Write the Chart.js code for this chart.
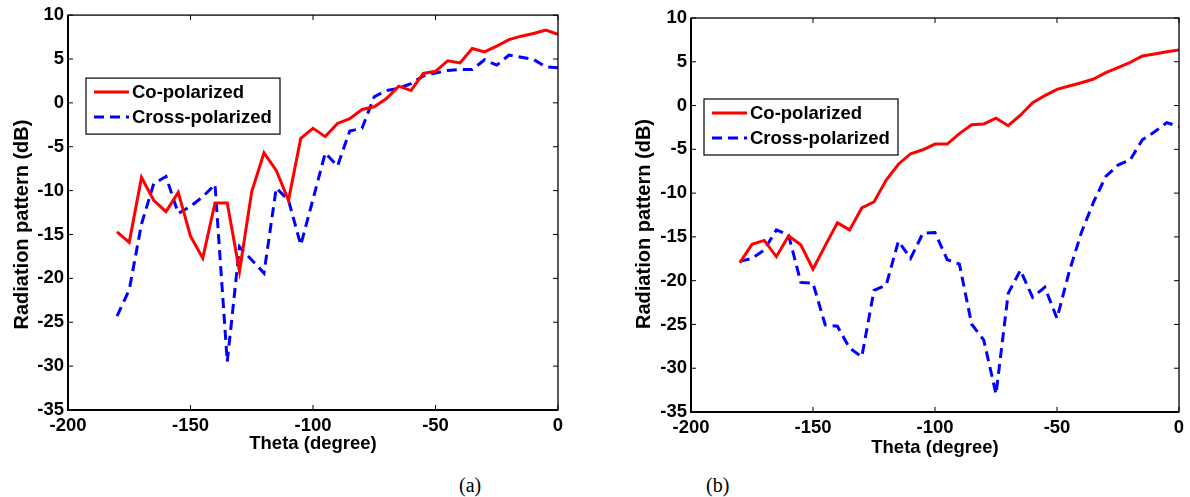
<!DOCTYPE html>
<html>
<head>
<meta charset="utf-8">
<script src="https://cdn.jsdelivr.net/npm/chart.js@4.4.1/dist/chart.umd.min.js"></script>
<style>
  body { margin: 0; background: #fff; width: 1190px; height: 497px; position: relative; overflow: hidden; }
  .box { position: absolute; top: 0; height: 470px; }
  .cap { position: absolute; font-family: "Liberation Serif", "Times New Roman", serif; font-size: 20px; color: #000; }
</style>
</head>
<body>
<div class="box" style="left:0;width:590px"><canvas id="chartA"></canvas></div>
<div class="box" style="left:595px;width:595px"><canvas id="chartB"></canvas></div>
<div class="cap" style="left:459px;top:474px">(a)</div>
<div class="cap" style="left:706px;top:474px">(b)</div>
<script>
// angle samples (degree)
const theta = [-180, -175, -170, -165, -160, -155, -150, -145, -140, -135, -130, -125, -120,
  -115, -110, -105, -100, -95, -90, -85, -80, -75, -70, -65, -60, -55, -50, -45, -40,
  -35, -30, -25, -20, -15, -10, -5, 0];

// (a) values in dB
const coA = [-14.7, -15.9, -8.5, -11.1, -12.4, -10.2, -15.2, -17.7, -11.4, -11.4, -19.2, -10.1, -5.7,
  -7.7, -11.1, -4.05, -2.9, -3.85, -2.35, -1.8, -0.75, -0.45, 0.5, 1.9, 1.4, 3.35, 3.6, 4.8, 4.55,
  6.2, 5.8, 6.47, 7.2, 7.6, 7.9, 8.3, 7.8];
const crossA = [-24.3, -21.3, -13.8, -9.2, -8.4, -12.6, -11.8, -10.7, -9.3, -29.5, -16.4, -17.9, -19.4,
  -9.7, -11.1, -16.2, -11.0, -5.7, -7.2, -3.2, -2.9, 0.7, 1.4, 1.65, 2.2, 3.05, 3.4, 3.7, 3.8,
  3.8, 4.9, 4.3, 5.45, 5.2, 4.95, 4.1, 4.0];

// (b) values in dB
const coB = [-17.95, -15.85, -15.4, -17.25, -14.9, -15.9, -18.7, -16.0, -13.4, -14.2, -11.7, -11.0, -8.5,
  -6.7, -5.5, -5.05, -4.4, -4.4, -3.2, -2.2, -2.1, -1.45, -2.3, -1.1, 0.33, 1.13, 1.85, 2.23, 2.6,
  3.03, 3.75, 4.33, 4.94, 5.66, 5.9, 6.15, 6.35];
const crossB = [-17.8, -17.45, -16.5, -14.2, -14.8, -20.2, -20.3, -25.05, -25.2, -27.7, -28.7, -21.1, -20.5,
  -15.5, -17.45, -14.6, -14.5, -17.6, -18.1, -24.95, -26.8, -32.95, -21.45, -18.8, -21.9, -20.75, -24.3, -18.97, -14.5,
  -11.0, -8.1, -6.8, -6.2, -3.9, -3.0, -1.95, -2.4];

const seriesNames = ["Co-polarized", "Cross-polarized"];
const xTicks = [-200, -150, -100, -50, 0];
const yTicks = [-35, -30, -25, -20, -15, -10, -5, 0, 5, 10];
const yTitle = "Radiation pattern (dB)";

Chart.defaults.font.family = "'Liberation Sans', Arial, sans-serif";
Chart.defaults.color = "#000";

// MATLAB style box with inward ticks, legend and y title
const framePlugin = {
  id: "frame",
  afterDatasetsDraw(chart) {
    const { ctx, chartArea: a, scales } = chart;
    const opt = chart.options.plugins.frame;
    ctx.save();
    ctx.strokeStyle = "#000";
    ctx.lineWidth = 1.3;
    ctx.strokeRect(a.left, a.top, a.right - a.left, a.bottom - a.top);
    ctx.lineWidth = 2;
    ctx.beginPath();
    ctx.moveTo(a.left, a.top);
    ctx.lineTo(a.left, a.bottom);
    ctx.lineTo(a.right, a.bottom);
    ctx.stroke();
    ctx.lineWidth = 1;
    ctx.beginPath();
    xTicks.forEach((v) => {
      const px = scales.x.getPixelForValue(v);
      ctx.moveTo(px, a.bottom);
      ctx.lineTo(px, a.bottom - 5);
      ctx.moveTo(px, a.top);
      ctx.lineTo(px, a.top + 5);
    });
    yTicks.forEach((v) => {
      const py = scales.y.getPixelForValue(v);
      ctx.moveTo(a.left, py);
      ctx.lineTo(a.left + 5, py);
      ctx.moveTo(a.right, py);
      ctx.lineTo(a.right - 5, py);
    });
    ctx.stroke();

    // y axis title
    ctx.save();
    ctx.translate(opt.titleX, (a.top + a.bottom) / 2 + opt.titleShift);
    ctx.rotate(-Math.PI / 2);
    ctx.font = "bold 20px 'Liberation Sans', Arial, sans-serif";
    ctx.textAlign = "center";
    ctx.textBaseline = "middle";
    ctx.fillStyle = "#000";
    ctx.fillText(yTitle, 0, 0);
    ctx.restore();

    // legend box
    const bx = a.left + opt.dx, by = a.top + opt.dy;
    ctx.fillStyle = "#fff";
    ctx.fillRect(bx, by, 194, 56);
    ctx.lineWidth = 1.2;
    ctx.strokeStyle = "#000";
    ctx.strokeRect(bx, by, 194, 56);
    ctx.font = "bold 18.5px 'Liberation Sans', Arial, sans-serif";
    ctx.textBaseline = "middle";
    chart.data.datasets.forEach((ds, i) => {
      const y = by + 14 + i * 25;
      ctx.strokeStyle = ds.borderColor;
      ctx.lineWidth = ds.borderWidth;
      ctx.setLineDash(ds.borderDash || []);
      ctx.beginPath();
      ctx.moveTo(bx + 8, y);
      ctx.lineTo(bx + 43, y);
      ctx.stroke();
      ctx.setLineDash([]);
      ctx.fillStyle = "#000";
      ctx.fillText(ds.label, bx + 46, y + 1);
    });
    ctx.restore();
  }
};

function makeChart(id, co, cross, cfg) {
  const ctx = document.getElementById(id).getContext("2d");
  return new Chart(ctx, {
    type: "line",
    data: {
      datasets: [
        {
          label: seriesNames[0],
          data: theta.map((t, i) => ({ x: t, y: co[i] })),
          borderColor: "#ff0000",
          borderWidth: 3,
          pointRadius: 0,
          tension: 0,
        },
        {
          label: seriesNames[1],
          data: theta.map((t, i) => ({ x: t, y: cross[i] })),
          borderColor: "#0000ff",
          borderWidth: 3,
          borderDash: [10, 6],
          pointRadius: 0,
          tension: 0,
        },
      ],
    },
    options: {
      responsive: true,
      maintainAspectRatio: false,
      animation: false,
      layout: { padding: cfg.padding },
      plugins: {
        legend: { display: false },
        tooltip: { enabled: false },
        frame: { dx: cfg.legend[0], dy: cfg.legend[1], titleX: cfg.titleX, titleShift: cfg.titleShift },
      },
      scales: {
        x: {
          type: "linear",
          min: -200,
          max: 0,
          afterBuildTicks: (s) => { s.ticks = xTicks.map((v) => ({ value: v })); },
          afterFit: (s) => { s.height = cfg.xHeight; },
          grid: { display: false, drawTicks: false, tickLength: 0 },
          border: { display: false },
          ticks: { font: { size: 18.5, weight: "bold" }, padding: 5, maxRotation: 0 },
          title: {
            display: true,
            text: "Theta (degree)",
            font: { size: 18.5, weight: "bold" },
            padding: { top: 0, bottom: cfg.xTitlePad },
          },
        },
        y: {
          min: -35,
          max: 10,
          afterBuildTicks: (s) => { s.ticks = yTicks.map((v) => ({ value: v })); },
          afterFit: (s) => { s.width = 68; },
          grid: { display: false, drawTicks: false, tickLength: 0 },
          border: { display: false },
          ticks: { font: { size: 18.5, weight: "bold" }, padding: 4 },
          title: { display: false },
        },
      },
    },
    plugins: [framePlugin],
  });
}

makeChart("chartA", coA, crossA, {
  padding: { left: 0, right: 32, top: 15, bottom: 0 },
  xHeight: 60,
  xTitlePad: 15,
  legend: [18, 63],
  titleX: 22,
  titleShift: 12,
});
makeChart("chartB", coB, crossB, {
  padding: { left: 28, right: 11, top: 18, bottom: 0 },
  xHeight: 58,
  xTitlePad: 11,
  legend: [13, 81],
  titleX: 49,
  titleShift: 9,
});
</script>
</body>
</html>
